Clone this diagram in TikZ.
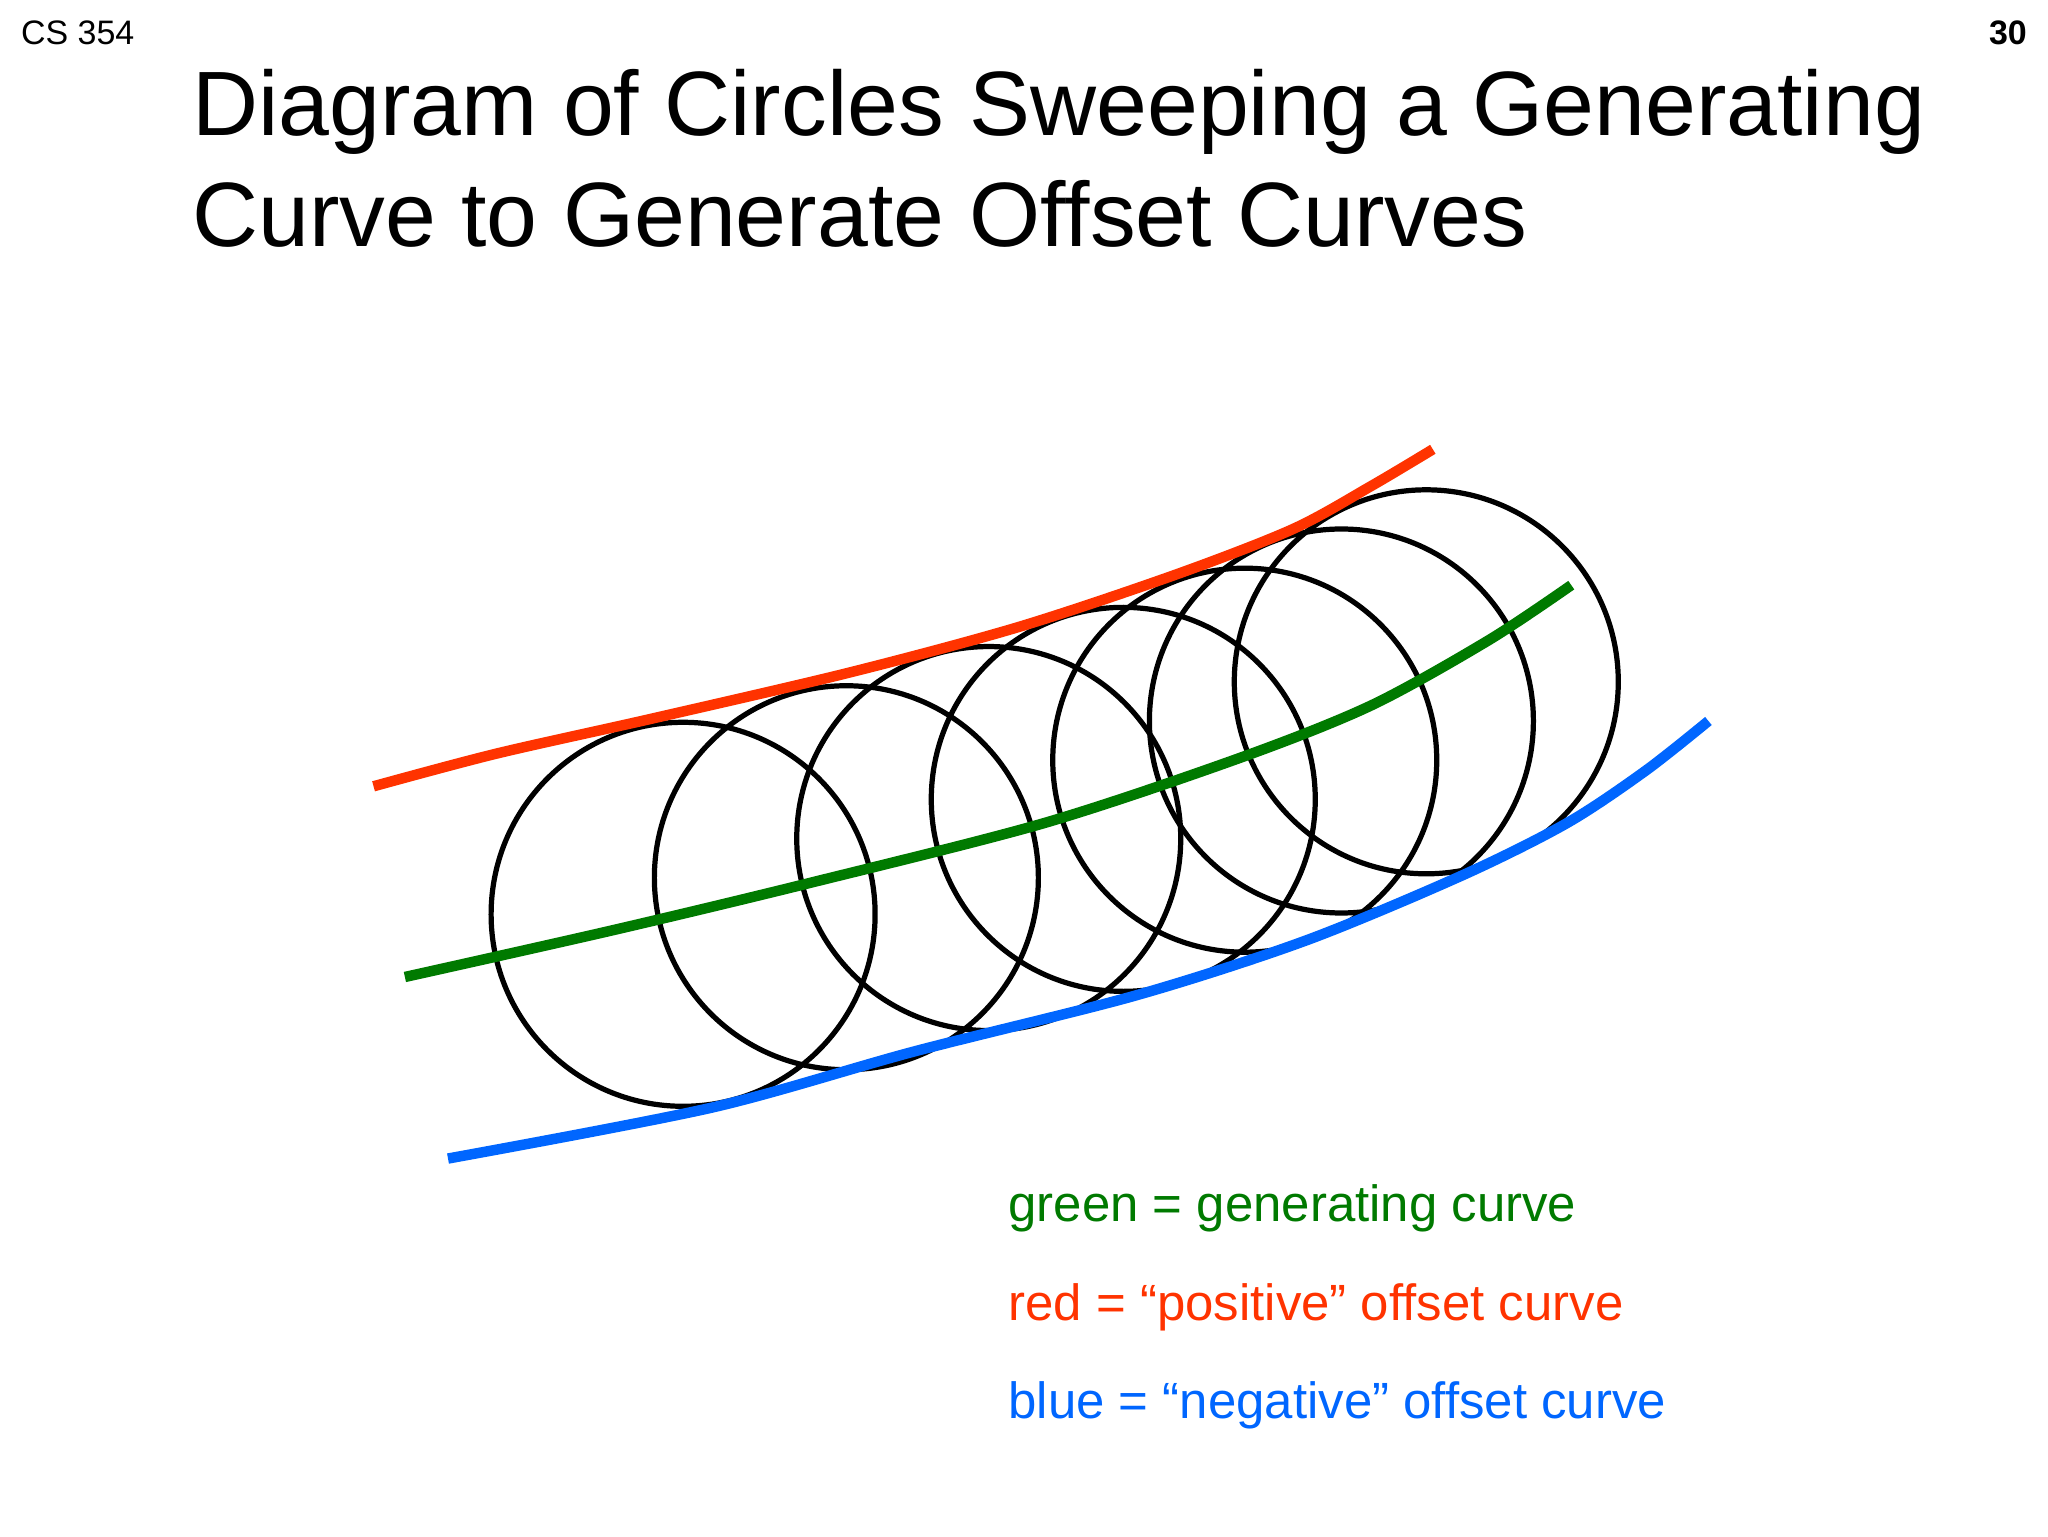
\documentclass[tikz,border=0pt]{standalone}
\usepackage{fontspec}
\setmainfont{Liberation Sans}
\definecolor{cred}{HTML}{FF3300}
\definecolor{cgreen}{HTML}{007A00}
\definecolor{cblue}{HTML}{0066FF}
\begin{document}
\begin{tikzpicture}[x=1pt,y=-1pt,
  curve/.style={line width=8pt,line join=round},
  circ/.style={draw=black,line width=4pt},
  lbl/.style={anchor=base west,inner sep=0pt,font=\fontsize{39}{44}\selectfont}]
\useasboundingbox (0,0) rectangle (1568,1176);
\node[anchor=base west,inner sep=0pt,font=\fontsize{26}{30}\selectfont] (cs) at (16,34) {CS 354};
\node[anchor=base east,inner sep=0pt,font=\fontsize{26}{30}\selectfont\bfseries] (pg) at (1552,34) {30};
\node[anchor=base west,inner sep=0pt,font=\fontsize{70}{85}\selectfont] (t1) at (147,104) {Diagram of Circles Sweeping a Generating};
\node[anchor=base west,inner sep=0pt,font=\fontsize{70}{85}\selectfont] (t2) at (147,189) {Curve to Generate Offset Curves};
\foreach \cx/\cy in {523/700,648/672,757/642,860/612,953/582,1027/552,1092/522}
  \draw[circ] (\cx,\cy) circle (147);
\draw[curve,cred] plot[smooth,tension=0.5] coordinates {(286,602) (380,577) (500,550) (650,515) (780,480) (900,440) (990,405) (1050,372) (1097,344)};
\draw[curve,cgreen] plot[smooth,tension=0.5] coordinates {(310,748) (470,712) (620,676) (800,630) (950,580) (1050,540) (1140,490) (1203,448)};
\draw[curve,cblue] plot[smooth,tension=0.5] coordinates {(343,887) (545,848) (700,805) (870,762) (1000,720) (1120,670) (1200,630) (1260,590) (1308,552)};
\node[lbl,text=cgreen] (l1) at (772,935) {green = generating curve};
\node[lbl,text=cred] (l2) at (772,1011) {red = “positive” offset curve};
\node[lbl,text=cblue] (l3) at (772,1086) {blue = “negative” offset curve};
\end{tikzpicture}
\end{document}
